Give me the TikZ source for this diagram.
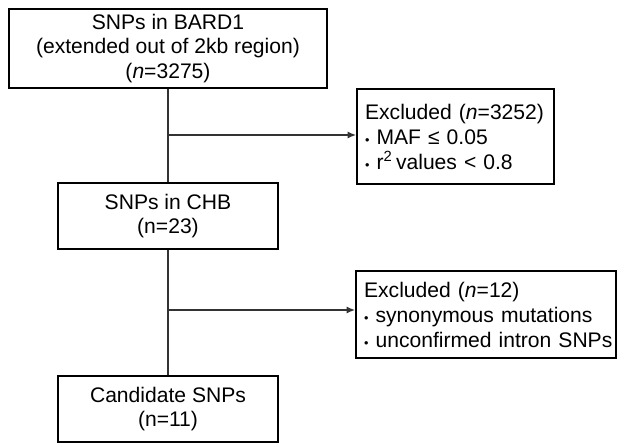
\documentclass[tikz,border=0pt]{standalone}
\usepackage{fontspec}
\setmainfont{Liberation Sans}
\usetikzlibrary{calc, positioning, arrows.meta}

\begin{document}
\begin{tikzpicture}[
  x=0.025cm, y=-0.025cm,
  box/.style={draw=black, fill=white, line width=1.6pt, align=center,
              font=\fontsize{15}{17.7}\selectfont, inner sep=0pt},
  exbox/.style={draw=black, fill=white, line width=1.6pt, align=left,
                font=\fontsize{15}{17.7}\selectfont, inner xsep=0.2cm,
                inner ysep=0pt, anchor=north west},
  link/.style={draw=black!80, line width=0.8pt},
  arr/.style={link, -{Latex[length=6pt, width=5pt]}},
]
\useasboundingbox (0,0) rectangle (627,443);

\node[box, minimum width=7.95cm, minimum height=1.975cm] (bard) at (168,48.5) {
  SNPs in BARD1\\
  (extended out of 2kb region)\\
  (\textit{n}=3275)
};

\node[box, minimum width=5.5cm, minimum height=1.65cm] (chb) at (168,216) {
  SNPs in CHB\\
  (n=23)
};

\node[box, minimum width=5.5cm, minimum height=1.65cm] (cand) at (168,409) {
  Candidate SNPs\\
  (n=11)
};

\node[exbox, text width=4.525cm, minimum height=2.375cm] (ex1) at (356,88) {
  Excluded (\textit{n}=3252)\\
  \mbox{{\small•}\,\,MAF ≤ 0.05}\\
  \mbox{{\small•}\,\,r\textsuperscript{2}\,values < 0.8}
};

\node[exbox, text width=6.1cm, minimum height=2.175cm] (ex2) at (355,270) {
  Excluded (\textit{n}=12)\\
  \mbox{{\small•}\,\,synonymous mutations}\\
  \mbox{{\small•}\,\,unconfirmed intron SNPs}
};

% main flow
\draw[link] (bard) -- (chb);
\draw[link] (chb) -- (cand);

% exclusions
\coordinate (b1) at (168,135);
\coordinate (b2) at (168,310);
\draw[arr] (b1) -- (b1 -| ex1.west);
\draw[arr] (b2) -- (b2 -| ex2.west);
\end{tikzpicture}
\end{document}
